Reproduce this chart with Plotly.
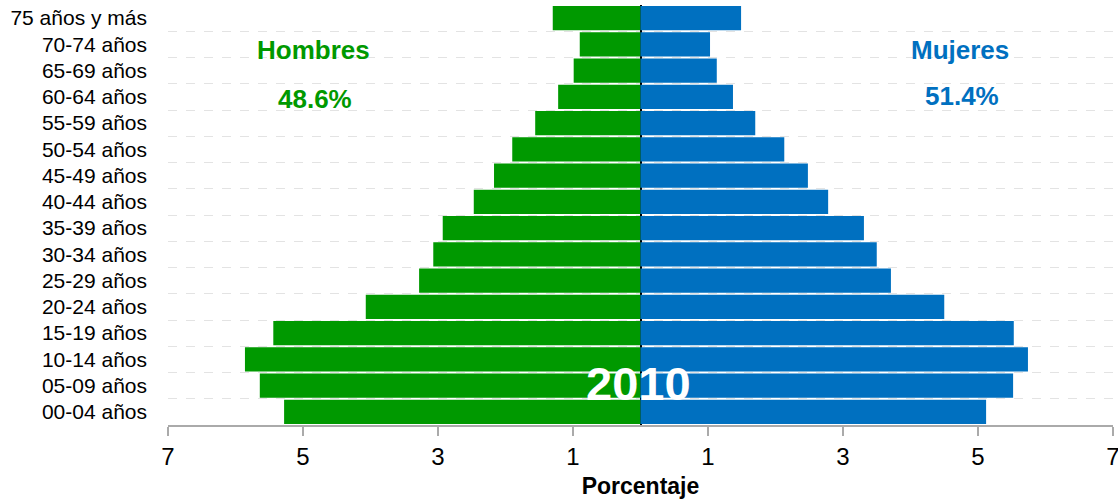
import plotly.graph_objects as go

age_groups = ["00-04 años", "05-09 años", "10-14 años", "15-19 años", "20-24 años",
              "25-29 años", "30-34 años", "35-39 años", "40-44 años", "45-49 años",
              "50-54 años", "55-59 años", "60-64 años", "65-69 años", "70-74 años",
              "75 años y más"]
hombres = [5.28, 5.64, 5.86, 5.44, 4.07, 3.28, 3.07, 2.93, 2.47, 2.17,
           1.90, 1.56, 1.22, 0.99, 0.90, 1.30]
mujeres = [5.12, 5.52, 5.74, 5.53, 4.50, 3.71, 3.50, 3.31, 2.78, 2.48,
           2.13, 1.70, 1.37, 1.13, 1.03, 1.49]
tick_vals = [-7, -5, -3, -1, 1, 3, 5, 7]
tick_text = ["7", "5", "3", "1", "1", "3", "5", "7"]

green = "#009900"
blue = "#0070C0"
FONT = "Liberation Sans, Arial, sans-serif"

fig = go.Figure()
fig.add_trace(go.Bar(
    y=age_groups, x=[-v for v in hombres], orientation="h", name="Hombres",
    marker=dict(color=green, line=dict(width=0)), customdata=hombres,
    hovertemplate="%{y}: %{customdata}%<extra>Hombres</extra>"))
fig.add_trace(go.Bar(
    y=age_groups, x=mujeres, orientation="h", name="Mujeres",
    marker=dict(color=blue, line=dict(width=0)),
    hovertemplate="%{y}: %{x}%<extra>Mujeres</extra>"))

fig.update_layout(
    width=1118, height=504,
    margin=dict(l=168, r=5, t=5, b=79),
    barmode="relative", bargap=0.08,
    showlegend=False,
    plot_bgcolor="white", paper_bgcolor="white",
    font=dict(family=FONT, color="black"),
)
fig.update_xaxes(
    automargin=False,
    range=[-7, 7], tickvals=tick_vals, ticktext=tick_text,
    tickfont=dict(size=24), ticklabeloverflow="allow", showgrid=False,
    showline=True, linecolor="#aaaaaa", linewidth=2,
    ticks="outside", ticklen=9, tickwidth=2, tickcolor="#aaaaaa",
    zeroline=True, zerolinecolor="black", zerolinewidth=2,
    layer="above traces",
    title=dict(text="<b>Porcentaje</b>", font=dict(size=23), standoff=9),
)
fig.update_yaxes(
    automargin=False,
    type="category", tickson="boundaries",
    showgrid=True, gridcolor="#e3e3e3", griddash="dash", gridwidth=1,
    ticks="", tickfont=dict(size=21), ticklabelstandoff=20,
    showline=False, zeroline=False,
)

ann_font = dict(size=26, family=FONT)
common = dict(xref="x", yref="paper", xanchor="center", yanchor="middle", showarrow=False)
fig.add_annotation(x=-4.85, y=0.893, text="<b>Hombres</b>",
                   font=dict(color=green, **ann_font), **common)
fig.add_annotation(x=-4.82, y=0.776, text="<b>48.6%</b>",
                   font=dict(color=green, **ann_font), **common)
fig.add_annotation(x=4.73, y=0.893, text="<b>Mujeres</b>",
                   font=dict(color=blue, **ann_font), **common)
fig.add_annotation(x=4.76, y=0.783, text="<b>51.4%</b>",
                   font=dict(color=blue, **ann_font), **common)
fig.add_annotation(x=-0.03, y=0.1, text="<b>2010</b>",
                   font=dict(color="white", size=47, family=FONT), **common)

fig.write_html("out.html", config={"displayModeBar": False})

# remove the browser's default page margin so the figure sits at the window origin
with open("out.html", encoding="utf-8") as f:
    html = f.read()
html = html.replace("<head>", "<head><style>html,body{margin:0;padding:0;overflow:hidden}</style>", 1)
with open("out.html", "w", encoding="utf-8") as f:
    f.write(html)
